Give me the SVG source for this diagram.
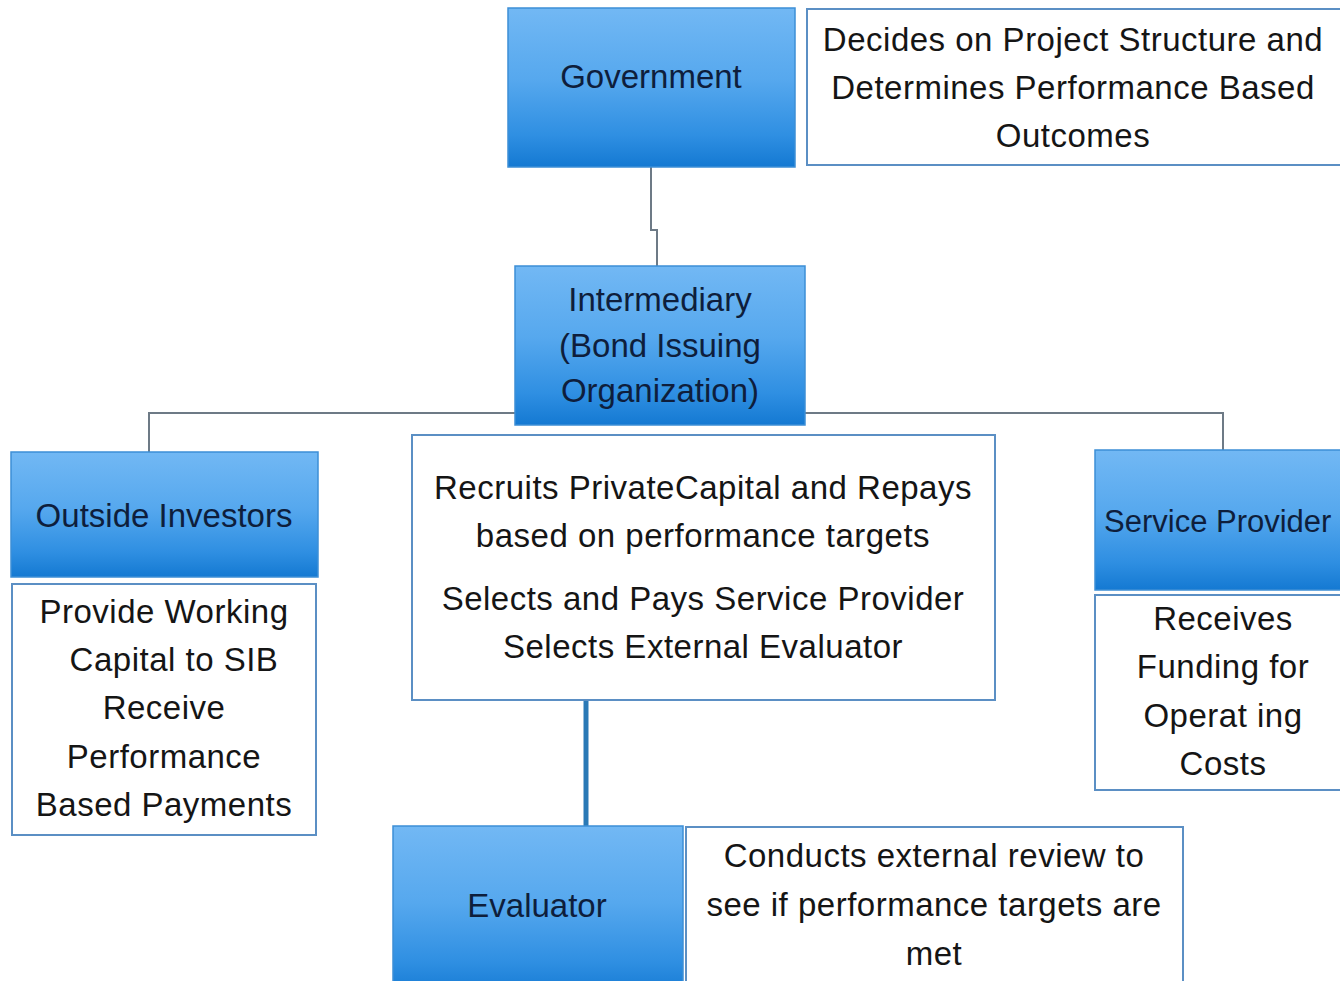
<svg xmlns="http://www.w3.org/2000/svg" width="1340" height="981" viewBox="0 0 1340 981">
<defs>
<linearGradient id="blue" x1="0" y1="0" x2="0" y2="1">
<stop offset="0" stop-color="#72b8f4"/>
<stop offset="0.45" stop-color="#56a8ee"/>
<stop offset="0.8" stop-color="#2f8fe2"/>
<stop offset="1" stop-color="#1479d2"/>
</linearGradient>
<style>
.node{fill:url(#blue);stroke:#3d8fd6;stroke-width:1.5}
.desc{fill:#fff;stroke:#5b8fc4;stroke-width:2}
.lbl{font-family:"Liberation Sans",Arial,sans-serif;font-size:33px;fill:#0e1e3c;text-anchor:middle}
.txt{font-family:"Liberation Sans",Arial,sans-serif;font-size:33px;letter-spacing:0.5px;fill:#151515;text-anchor:middle}
.conn{fill:none;stroke:#6d7a86;stroke-width:2}
</style>
</defs>
<rect width="1340" height="981" fill="#fff"/>
<g id="connectors">
<polyline class="conn" points="651,167 651,230 657,230 657,266"/>
<polyline class="conn" points="149,452 149,413 1223,413 1223,450"/>
<line x1="586" y1="700" x2="586" y2="826" stroke="#2a79b6" stroke-width="5"/>
</g>
<g id="government">
<rect class="node" x="508" y="8" width="287" height="159"/>
<text class="lbl" x="651" y="88">Government</text>
</g>
<g id="government-desc">
<rect class="desc" x="807" y="9" width="540" height="156"/>
<text class="txt" x="1073" y="51">Decides on Project Structure and</text>
<text class="txt" x="1073" y="99">Determines Performance Based</text>
<text class="txt" x="1073" y="147">Outcomes</text>
</g>
<g id="intermediary">
<rect class="node" x="515" y="266" width="290" height="159"/>
<text class="lbl" x="660" y="311">Intermediary</text>
<text class="lbl" x="660" y="357">(Bond Issuing</text>
<text class="lbl" x="660" y="402">Organization)</text>
</g>
<g id="outside-investors">
<rect class="node" x="11" y="452" width="307" height="125"/>
<text class="lbl" x="164" y="527">Outside Investors</text>
</g>
<g id="outside-investors-desc">
<rect class="desc" x="12" y="584" width="304" height="251"/>
<text class="txt" x="164" y="623">Provide Working</text>
<text class="txt" x="174" y="671">Capital to SIB</text>
<text class="txt" x="164" y="719">Receive</text>
<text class="txt" x="164" y="768">Performance</text>
<text class="txt" x="164" y="816">Based Payments</text>
</g>
<g id="intermediary-desc">
<rect class="desc" x="412" y="435" width="583" height="265"/>
<text class="txt" x="703" y="499">Recruits PrivateCapital and Repays</text>
<text class="txt" x="703" y="547">based on performance targets</text>
<text class="txt" x="703" y="610">Selects and Pays Service Provider</text>
<text class="txt" x="703" y="658">Selects External Evaluator</text>
</g>
<g id="service-provider">
<rect class="node" x="1095" y="450" width="260" height="140"/>
<text class="lbl" x="1104" y="532" style="text-anchor:start;font-size:31px">Service Provider</text>
</g>
<g id="service-provider-desc">
<rect class="desc" x="1095" y="595" width="260" height="195"/>
<text class="txt" x="1223" y="630">Receives</text>
<text class="txt" x="1223" y="678">Funding for</text>
<text class="txt" x="1223" y="727">Operat ing</text>
<text class="txt" x="1223" y="775">Costs</text>
</g>
<g id="evaluator">
<rect class="node" x="393" y="826" width="290" height="170"/>
<text class="lbl" x="537" y="917">Evaluator</text>
</g>
<g id="evaluator-desc">
<rect class="desc" x="686" y="827" width="497" height="170"/>
<text class="txt" x="934" y="867">Conducts external review to</text>
<text class="txt" x="934" y="916">see if performance targets are</text>
<text class="txt" x="934" y="965">met</text>
</g>
</svg>
